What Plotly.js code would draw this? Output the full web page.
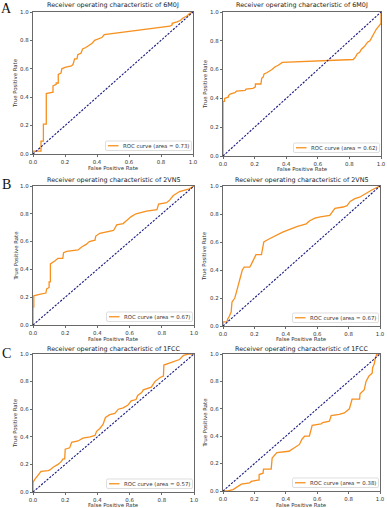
<!DOCTYPE html>
<html>
<head>
<meta charset="utf-8">
<script src="https://cdn.plot.ly/plotly-3.0.1.min.js"></script>
<style>html,body{margin:0;padding:0;background:#fff;}#chart{width:387px;height:508px;}</style>
</head>
<body>
<div id="chart"></div>
<script>
// ---- data ----
const proteins = ['6M0J', '6M0J', '2VN5', '2VN5', '1FCC', '1FCC'];
const areas = ['0.73', '0.62', '0.67', '0.67', '0.57', '0.38'];
const panelLabels = ['A', 'B', 'C'];
const tickVals = [0, 0.2, 0.4, 0.6, 0.8, 1.0];

const fpr1 = [0,0,0.05,0.05,0.065,0.065,0.083,0.083,0.125,0.125,0.145,0.145,0.158,0.158,0.175,0.18,0.2,0.24,0.25,0.26,0.275,0.28,0.3,0.31,0.33,0.355,0.37,0.385,0.41,0.43,0.445,0.855,0.87,0.87,0.9,0.92,0.94,0.96,0.98,1];
const tpr1 = [0,0.02,0.02,0.09,0.09,0.21,0.21,0.425,0.435,0.48,0.49,0.50,0.50,0.56,0.57,0.60,0.61,0.62,0.63,0.67,0.67,0.70,0.71,0.74,0.75,0.77,0.78,0.80,0.81,0.82,0.84,0.90,0.91,0.92,0.93,0.94,0.96,0.97,0.99,1];

const fpr2 = [0,0,0.01,0.01,0.035,0.035,0.045,0.07,0.075,0.085,0.14,0.145,0.19,0.205,0.205,0.24,0.245,0.255,0.26,0.28,0.3,0.31,0.33,0.35,0.375,0.81,0.825,0.84,0.85,0.865,0.875,0.895,0.905,0.915,0.93,0.945,0.955,0.97,0.985,0.995,1,1];
const tpr2 = [0,0.38,0.38,0.40,0.41,0.42,0.43,0.435,0.44,0.45,0.455,0.465,0.47,0.48,0.50,0.50,0.54,0.55,0.57,0.58,0.59,0.60,0.62,0.63,0.65,0.665,0.67,0.69,0.71,0.72,0.74,0.76,0.78,0.79,0.80,0.83,0.86,0.88,0.90,0.91,0.92,1];

const fpr3 = [0,0,0.005,0.005,0.04,0.08,0.085,0.1,0.1,0.108,0.108,0.125,0.135,0.155,0.185,0.19,0.21,0.28,0.3,0.33,0.35,0.385,0.39,0.415,0.45,0.5,0.52,0.56,0.58,0.61,0.64,0.68,0.705,0.77,0.78,0.83,0.85,0.87,0.9,0.91,0.97,1];
const tpr3 = [0,0.13,0.13,0.21,0.22,0.23,0.26,0.27,0.31,0.31,0.44,0.45,0.46,0.48,0.48,0.52,0.53,0.54,0.56,0.58,0.60,0.61,0.64,0.66,0.67,0.68,0.72,0.73,0.75,0.78,0.80,0.81,0.82,0.83,0.87,0.88,0.90,0.93,0.95,0.96,0.98,1];

const fpr4 = [0,0,0.025,0.03,0.04,0.052,0.057,0.07,0.075,0.085,0.1,0.11,0.123,0.135,0.17,0.18,0.2,0.21,0.245,0.25,0.26,0.29,0.34,0.38,0.425,0.47,0.53,0.55,0.585,0.62,0.68,0.7,0.713,0.765,0.79,0.81,0.84,0.87,0.9,0.945,1];
const tpr4 = [0,0.03,0.03,0.05,0.07,0.10,0.17,0.19,0.20,0.24,0.30,0.34,0.40,0.42,0.42,0.44,0.48,0.51,0.51,0.55,0.60,0.62,0.65,0.67,0.69,0.71,0.73,0.75,0.77,0.78,0.79,0.82,0.84,0.85,0.86,0.89,0.91,0.92,0.94,0.97,1];

const fpr5 = [0,0,0.01,0.03,0.05,0.095,0.105,0.125,0.155,0.175,0.187,0.197,0.2,0.228,0.24,0.28,0.31,0.355,0.385,0.395,0.415,0.435,0.45,0.477,0.508,0.53,0.56,0.59,0.61,0.64,0.65,0.675,0.685,0.735,0.757,0.79,0.81,0.813,0.84,0.87,0.91,0.935,0.965,1];
const tpr5 = [0,0.07,0.09,0.12,0.15,0.155,0.16,0.18,0.20,0.22,0.24,0.24,0.31,0.32,0.36,0.37,0.39,0.40,0.41,0.44,0.46,0.49,0.54,0.56,0.57,0.60,0.61,0.63,0.66,0.67,0.70,0.72,0.74,0.76,0.80,0.83,0.84,0.92,0.93,0.94,0.96,0.99,1.0,1];

const fpr6 = [0,0.03,0.064,0.095,0.117,0.17,0.18,0.22,0.23,0.23,0.255,0.258,0.307,0.313,0.33,0.343,0.42,0.445,0.487,0.504,0.52,0.55,0.568,0.625,0.636,0.678,0.689,0.74,0.773,0.805,0.822,0.87,0.873,0.9,0.911,0.93,0.95,0.953,0.964,0.97,0.98,1];
const tpr6 = [0,0.0,0.01,0.03,0.05,0.06,0.07,0.08,0.08,0.12,0.13,0.16,0.16,0.24,0.26,0.28,0.29,0.31,0.34,0.38,0.40,0.40,0.48,0.49,0.50,0.51,0.55,0.56,0.57,0.60,0.67,0.67,0.71,0.74,0.80,0.84,0.86,0.90,0.93,0.97,1.0,1];

const chanceLine = [0, 1];
const fprs = [fpr1, fpr2, fpr3, fpr4, fpr5, fpr6];
const tprs = [tpr1, tpr2, tpr3, tpr4, tpr5, tpr6];

// ---- layout geometry (pixels) ----
const W = 387, H = 508;
const boxes = [
  {l: 33, r: 193, t: 12, b: 154},
  {l: 223, r: 381, t: 12, b: 156},
  {l: 33, r: 194, t: 186, b: 325},
  {l: 223, r: 380, t: 186, b: 326},
  {l: 33, r: 194, t: 354, b: 492},
  {l: 223, r: 380, t: 354, b: 491}
];
const titleY = [5.5, 5.5, 180, 180, 349, 349];
const xlabY = [167.5, 169, 338.5, 339, 504.5, 504.5];
const ylabX = [15, 205, 15, 204, 15, 204];
const labelPos = [{x: 7, y: 8.5}, {x: 7, y: 184.5}, {x: 7, y: 353}];

const px = x => x / W;
const py = y => 1 - y / H;

const FONT = 'DejaVu Sans, sans-serif';
const ORANGE = '#f7901e';
const NAVY = '#1a1a80';

const traces = [];
const layout = {
  width: W, height: H,
  margin: {l: 0, r: 0, t: 0, b: 0},
  paper_bgcolor: '#fff', plot_bgcolor: '#fff',
  showlegend: false,
  annotations: [], shapes: []
};

function roundRect(l, t, r, b, rad) {
  const L = px(l), R = px(r), T = py(t), B = py(b);
  const rx = rad / W, ry = rad / H;
  return `M ${L + rx},${T} L ${R - rx},${T} Q ${R},${T} ${R},${T - ry} L ${R},${B + ry} Q ${R},${B} ${R - rx},${B} L ${L + rx},${B} Q ${L},${B} ${L},${B + ry} L ${L},${T - ry} Q ${L},${T} ${L + rx},${T} Z`;
}

boxes.forEach((bx, i) => {
  const n = i + 1;
  const xa = 'x' + (n === 1 ? '' : n), ya = 'y' + (n === 1 ? '' : n);
  traces.push({
    x: fprs[i], y: tprs[i], xaxis: xa, yaxis: ya, type: 'scatter', mode: 'lines',
    line: {color: ORANGE, width: 1.3}, hoverinfo: 'skip'
  });
  traces.push({
    x: chanceLine, y: chanceLine, xaxis: xa, yaxis: ya, type: 'scatter', mode: 'lines',
    line: {color: NAVY, width: 1.1, dash: '2.2px,1.4px'}, hoverinfo: 'skip'
  });
  const axCommon = {
    range: [0, 1], tickvals: tickVals, tickformat: '.1f',
    ticks: 'outside', ticklen: 2.5, tickwidth: 0.8, tickcolor: '#444',
    tickfont: {family: FONT, size: 5.4, color: '#333'},
    showgrid: false, zeroline: false, showline: true, mirror: true,
    linecolor: '#444', linewidth: 0.8, fixedrange: true
  };
  layout['xaxis' + (n === 1 ? '' : n)] = Object.assign({}, axCommon, {
    domain: [px(bx.l), px(bx.r)], anchor: ya
  });
  layout['yaxis' + (n === 1 ? '' : n)] = Object.assign({}, axCommon, {
    domain: [py(bx.b), py(bx.t)], anchor: xa
  });
  const cx = (bx.l + bx.r) / 2, cy = (bx.t + bx.b) / 2;
  layout.annotations.push({
    text: 'Receiver operating characteristic of ' + proteins[i],
    xref: 'paper', yref: 'paper', x: px(cx), y: py(titleY[i]),
    xanchor: 'center', yanchor: 'middle', showarrow: false, borderpad: 0,
    font: {family: FONT, size: 6.4, color: '#222'}
  });
  layout.annotations.push({
    text: 'False Positive Rate',
    xref: 'paper', yref: 'paper', x: px(cx), y: py(xlabY[i]),
    xanchor: 'center', yanchor: 'middle', showarrow: false, borderpad: 0,
    font: {family: FONT, size: 5.4, color: '#333'}
  });
  layout.annotations.push({
    text: 'True Positive Rate', textangle: -90,
    xref: 'paper', yref: 'paper', x: px(ylabX[i]), y: py(cy),
    xanchor: 'center', yanchor: 'middle', showarrow: false, borderpad: 0,
    font: {family: FONT, size: 5.4, color: '#333'}
  });
  // legend box
  const lr = bx.r - 1.5, lb = bx.b - 3.5, ll = lr - 86, lt = lb - 9.5;
  layout.shapes.push({
    type: 'path', path: roundRect(ll, lt, lr, lb, 1.5), xref: 'paper', yref: 'paper',
    line: {color: '#d0d0d0', width: 0.7}, fillcolor: 'rgba(255,255,255,0.85)', layer: 'above'
  });
  const lm = (lt + lb) / 2;
  layout.shapes.push({
    type: 'line', xref: 'paper', yref: 'paper',
    x0: px(ll + 2.5), x1: px(ll + 13), y0: py(lm), y1: py(lm),
    line: {color: ORANGE, width: 1.3}, layer: 'above'
  });
  layout.annotations.push({
    text: 'ROC curve (area = ' + areas[i] + ')',
    xref: 'paper', yref: 'paper', x: px(ll + 16.5), y: py(lm + 0.3),
    xanchor: 'left', yanchor: 'middle', showarrow: false, borderpad: 0,
    font: {family: FONT, size: 5.4, color: '#333'}
  });
});

panelLabels.forEach((lab, k) => {
  layout.annotations.push({
    text: lab, xref: 'paper', yref: 'paper', x: px(labelPos[k].x), y: py(labelPos[k].y),
    xanchor: 'center', yanchor: 'middle', showarrow: false, borderpad: 0,
    font: {family: 'Liberation Serif, Times New Roman, serif', size: 14, color: '#111'}
  });
});

Plotly.newPlot('chart', traces, layout, {staticPlot: true, displayModeBar: false});
</script>
</body>
</html>
